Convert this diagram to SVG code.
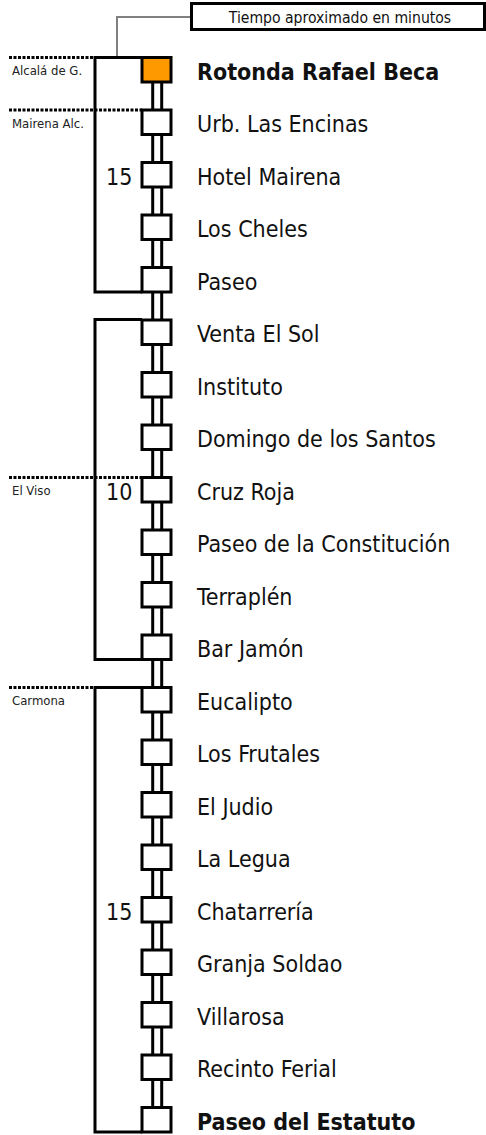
<svg xmlns="http://www.w3.org/2000/svg" width="486" height="1135" viewBox="0 0 486 1135">
<style>
.st{font-family:"DejaVu Sans Condensed","DejaVu Sans",sans-serif;font-stretch:condensed;font-size:23px;fill:#111}
.b{font-weight:bold}
.sm{font-family:"DejaVu Sans Condensed","DejaVu Sans",sans-serif;font-stretch:condensed;font-size:13px;fill:#222}
.box{fill:#fff;stroke:#000;stroke-width:3}
.br{fill:none;stroke:#000;stroke-width:3}
.dot{stroke:#000;stroke-width:3;stroke-dasharray:3 1.5}
.rail{stroke:#000;stroke-width:3}
</style>
<rect width="486" height="1135" fill="#fff"/>
<g id="callout">
<path d="M117 56V17H191" fill="none" stroke="#808080" stroke-width="2"/>
<rect x="191.5" y="3.5" width="293" height="26" fill="#fff" stroke="#000" stroke-width="3"/>
<text x="340" y="23" text-anchor="middle" style="font-family:'DejaVu Sans Condensed','DejaVu Sans',sans-serif;font-stretch:condensed;font-size:15.6px;fill:#111">Tiempo aproximado en minutos</text>
</g>
<g id="connectors">
<line class="rail" x1="152.7" y1="80" x2="152.7" y2="1110"/>
<line class="rail" x1="161.7" y1="80" x2="161.7" y2="1110"/>
<path class="br" d="M142 57.5H95V292H142"/>
<path class="br" d="M142 319.5H95V659.5H142"/>
<path class="br" d="M142 687.5H95V1132H142"/>
<line class="dot" x1="9" y1="57.5" x2="95" y2="57.5"/>
<line class="dot" x1="9" y1="110" x2="142" y2="110"/>
<line class="dot" x1="9" y1="477.5" x2="142" y2="477.5"/>
<line class="dot" x1="9" y1="687.5" x2="93" y2="687.5"/>
</g>
<g id="zones">
<text class="sm" x="12" y="75">Alcalá de G.</text>
<text class="sm" x="12" y="128">Mairena Alc.</text>
<text class="sm" x="12" y="495">El Viso</text>
<text class="sm" x="12" y="705">Carmona</text>
<text class="st" x="106" y="184.5">15</text>
<text class="st" x="106" y="499.5">10</text>
<text class="st" x="106" y="919.5">15</text>
</g>
<g id="s0"><rect x="142" y="57.5" width="29" height="24.5" fill="#FF9900" stroke="#000" stroke-width="3"/><text class="st b" x="197" y="79.5">Rotonda Rafael Beca</text></g>
<g id="s1"><rect class="box" x="142" y="110" width="29" height="24.5"/><text class="st" x="197" y="132">Urb. Las Encinas</text></g>
<g id="s2"><rect class="box" x="142" y="162.5" width="29" height="24.5"/><text class="st" x="197" y="184.5">Hotel Mairena</text></g>
<g id="s3"><rect class="box" x="142" y="215" width="29" height="24.5"/><text class="st" x="197" y="237">Los Cheles</text></g>
<g id="s4"><rect class="box" x="142" y="267.5" width="29" height="24.5"/><text class="st" x="197" y="289.5">Paseo</text></g>
<g id="s5"><rect class="box" x="142" y="320" width="29" height="24.5"/><text class="st" x="197" y="342">Venta El Sol</text></g>
<g id="s6"><rect class="box" x="142" y="372.5" width="29" height="24.5"/><text class="st" x="197" y="394.5">Instituto</text></g>
<g id="s7"><rect class="box" x="142" y="425" width="29" height="24.5"/><text class="st" x="197" y="447">Domingo de los Santos</text></g>
<g id="s8"><rect class="box" x="142" y="477.5" width="29" height="24.5"/><text class="st" x="197" y="499.5">Cruz Roja</text></g>
<g id="s9"><rect class="box" x="142" y="530" width="29" height="24.5"/><text class="st" x="197" y="552">Paseo de la Constitución</text></g>
<g id="s10"><rect class="box" x="142" y="582.5" width="29" height="24.5"/><text class="st" x="197" y="604.5">Terraplén</text></g>
<g id="s11"><rect class="box" x="142" y="635" width="29" height="24.5"/><text class="st" x="197" y="657">Bar Jamón</text></g>
<g id="s12"><rect class="box" x="142" y="687.5" width="29" height="24.5"/><text class="st" x="197" y="709.5">Eucalipto</text></g>
<g id="s13"><rect class="box" x="142" y="740" width="29" height="24.5"/><text class="st" x="197" y="762">Los Frutales</text></g>
<g id="s14"><rect class="box" x="142" y="792.5" width="29" height="24.5"/><text class="st" x="197" y="814.5">El Judio</text></g>
<g id="s15"><rect class="box" x="142" y="845" width="29" height="24.5"/><text class="st" x="197" y="867">La Legua</text></g>
<g id="s16"><rect class="box" x="142" y="897.5" width="29" height="24.5"/><text class="st" x="197" y="919.5">Chatarrería</text></g>
<g id="s17"><rect class="box" x="142" y="950" width="29" height="24.5"/><text class="st" x="197" y="972">Granja Soldao</text></g>
<g id="s18"><rect class="box" x="142" y="1002.5" width="29" height="24.5"/><text class="st" x="197" y="1024.5">Villarosa</text></g>
<g id="s19"><rect class="box" x="142" y="1055" width="29" height="24.5"/><text class="st" x="197" y="1077">Recinto Ferial</text></g>
<g id="s20"><rect class="box" x="142" y="1107.5" width="29" height="24.5"/><text class="st b" x="197" y="1129.5">Paseo del Estatuto</text></g>
</svg>
